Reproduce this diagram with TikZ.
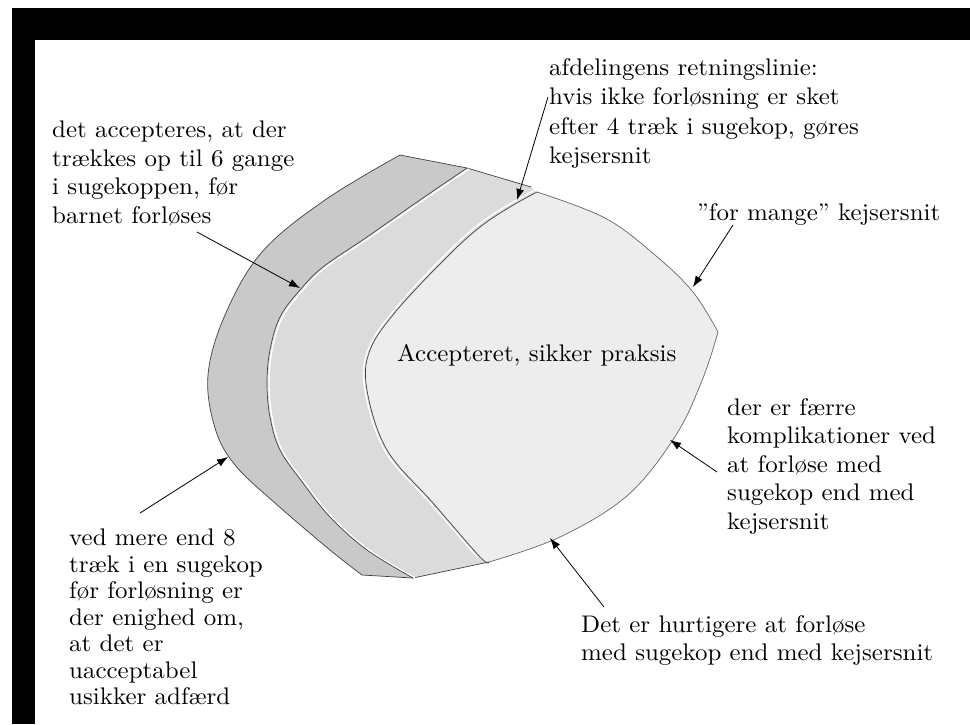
\documentclass[tikz,border=0pt]{standalone}
\usepackage{fontspec}
\setmainfont{lmroman10-regular.otf}[FakeStretch=1.04]
\usetikzlibrary{arrows.meta}
\begin{document}
\begin{tikzpicture}[x=1pt, y=-1pt, >={Latex[length=11pt,width=8pt]},
    note/.style={anchor=north west, inner sep=0pt, align=left, font=\fontsize{24}{28.5}\selectfont},
    pointer/.style={->, line width=0.8pt},
    rim/.style={draw=black!75, line width=0.7pt},
    gap/.style={draw=white, line width=1.4pt}]
    \useasboundingbox (0,0) rectangle (970,724);

    % frame
    \fill[black] (12,8) rectangle (970,40);
    \fill[black] (12,8) rectangle (35,724);

    % corners of the three zones
    \coordinate (ot) at (400,155);
    \coordinate (ob) at (362,575);
    \coordinate (mt) at (467,168);
    \coordinate (mb) at (413,578);
    \coordinate (it) at (537,192);
    \coordinate (ir) at (718,332);
    \coordinate (ib) at (489,562);

    % outer band
    \fill[black!21] plot[smooth, tension=0.6] coordinates {(ot) (325,200) (262,252) (225,315) (208,375) (215,428) (235,465) (275,503) (330,550) (ob)}
        -- (mb) -- plot[smooth, tension=0.6] coordinates {(mb) (367,550) (330,517) (303,483) (280,450) (270,417) (267,383) (270,350) (280,317) (300,290) (323,267) (367,237) (420,200) (mt)}
        -- cycle;
    % middle band
    \fill[black!14] plot[smooth, tension=0.6] coordinates {(mt) (420,200) (367,237) (323,267) (300,290) (280,317) (270,350) (267,383) (270,417) (280,450) (303,483) (330,517) (367,550) (mb)}
        -- (ib) -- plot[smooth, tension=0.6] coordinates {(ib) (480,557) (433,503) (387,450) (367,390) (370,350) (397,310) (447,257) (480,227) (510,207) (it)}
        -- (531,187) -- cycle;
    % inner zone
    \fill[black!7] plot[smooth, tension=0.6] coordinates {(it) (605,218) (655,255) (693,292) (ir)}
        -- plot[smooth, tension=0.6] coordinates {(ir) (703,378) (676,435) (628,495) (560,537) (ib)}
        -- plot[smooth, tension=0.6] coordinates {(ib) (480,557) (433,503) (387,450) (367,390) (370,350) (397,310) (447,257) (480,227) (510,207) (it)}
        -- cycle;

    % rims
    \draw[rim] plot[smooth, tension=0.6] coordinates {(ot) (325,200) (262,252) (225,315) (208,375) (215,428) (235,465) (275,503) (330,550) (ob)} -- (mb) -- (ib);
    \draw[rim] (ot) -- (mt) -- (531,187);
    \draw[gap] plot[smooth, tension=0.6] coordinates {(469,169) (422,201) (369,238) (325,268) (302,291) (282,318) (272,350) (269,383) (272,417) (282,450) (305,483) (332,517) (369,550) (415,578)};
    \draw[rim] plot[smooth, tension=0.6] coordinates {(mt) (420,200) (367,237) (323,267) (300,290) (280,317) (270,350) (267,383) (270,417) (280,450) (303,483) (330,517) (367,550) (mb)};
    \draw[gap] plot[smooth, tension=0.6] coordinates {(535,190) (508,205) (478,225) (445,255) (395,309) (368,350) (365,390) (385,451) (431,504) (478,558)};
    \draw[rim] plot[smooth, tension=0.6] coordinates {(ib) (480,557) (433,503) (387,450) (367,390) (370,350) (397,310) (447,257) (480,227) (510,207) (it)};
    \draw[rim, draw=black!60] plot[smooth, tension=0.6] coordinates {(it) (605,218) (655,255) (693,292) (ir)}
        -- plot[smooth, tension=0.6] coordinates {(ir) (703,378) (676,435) (628,495) (560,537) (ib)};

    % texts
    \node (praksis) [anchor=base west, inner sep=0pt, font=\fontsize{24}{28.5}\selectfont] at (397,361) {Accepteret, sikker praksis};
    \node (seks) [note] at (52,121) {det accepteres, at der\\trækkes op til 6 gange\\i sugekoppen, før\\barnet forløses};
    \node (otte) [note, font=\fontsize{24}{26.5}\selectfont] at (69,529) {ved mere end 8\\træk i en sugekop\\før forløsning er\\der enighed om,\\at det er\\uacceptabel\\usikker adfærd};
    \node (fire) [note, font=\fontsize{24}{29.5}\selectfont] at (549,58) {afdelingens retningslinie:\\hvis ikke forløsning er sket\\efter 4 træk i sugekop, gøres\\kejsersnit};
    \node (mange) [note] at (697,203) {”for mange” kejsersnit};
    \node (faerre) [note] at (727,398) {der er færre\\komplikationer ved\\at forløse med\\sugekop end med\\kejsersnit};
    \node (hurtig) [note] at (581,615) {Det er hurtigere at forløse\\med sugekop end med kejsersnit};

    % pointers
    \coordinate (t1) at (300,288);
    \coordinate (t2) at (228,457);
    \coordinate (t3) at (517,200);
    \coordinate (t4) at (693,287);
    \coordinate (t5) at (670,440);
    \coordinate (t6) at (550,538);
    \draw[pointer] (197,232) -- (t1);
    \draw[pointer] (140,513) -- (t2);
    \draw[pointer] (548,97) -- (t3);
    \draw[pointer] (733,225) -- (t4);
    \draw[pointer] (717,472) -- (t5);
    \draw[pointer] (604,607) -- (t6);
\end{tikzpicture}
\end{document}
